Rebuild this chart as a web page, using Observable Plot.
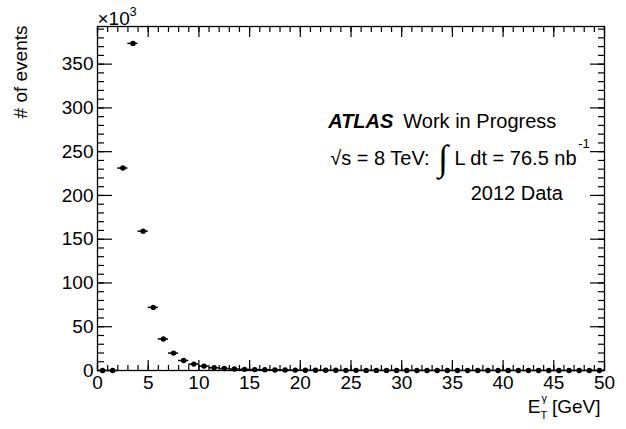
<!DOCTYPE html>
<html>
<head>
<meta charset="utf-8">
<script src="https://cdn.jsdelivr.net/npm/d3@7"></script>
<script src="https://cdn.jsdelivr.net/npm/@observablehq/plot@0.6"></script>
<style>
  html, body { margin: 0; padding: 0; background: #fff; }
  svg { display: block; }
</style>
</head>
<body>
<div id="chart"></div>
<script>
// ---- Data (E_T^gamma histogram, 1 GeV bins, counts in units of 10^3 events) ----
const binEdges = [0,1,2,3,4,5,6,7,8,9,10,11,12,13,14,15,16,17,18,19,20,21,22,23,24,25,
  26,27,28,29,30,31,32,33,34,35,36,37,38,39,40,41,42,43,44,45,46,47,48,49,50];
const counts = [0, 0, 231.3, 373.7, 159.2, 72.1, 36.0, 19.9, 11.4, 7.3,
  5.0, 3.1, 2.3, 1.7, 1.3, 1.0, 0.8, 0.65, 0.52, 0.43,
  0.36, 0.30, 0.25, 0.21, 0.18, 0.15, 0.13, 0.11, 0.10, 0.09,
  0.08, 0.07, 0.06, 0.05, 0.05, 0.04, 0.04, 0.03, 0.03, 0.03,
  0.02, 0.02, 0.02, 0.02, 0.01, 0.01, 0.01, 0.01, 0.01, 0.01];

// ---- Tick values ----
const xMajorTicks = [0,5,10,15,20,25,30,35,40,45,50];
const xMinorTicks = binEdges;
const yMajorTicks = [0,50,100,150,200,250,300,350];
const yMinorTicks = [0,10,20,30,40,50,60,70,80,90,100,110,120,130,140,150,160,170,180,190,
  200,210,220,230,240,250,260,270,280,290,300,310,320,330,340,350,360,370,380,390];

// ---- Text ----
const yTitle = "# of events";
const multiplierBase = "×10";
const multiplierExp = "3";
const atlasLabel = "ATLAS";
const atlasStatus = "Work in Progress";
const energyLabel = "√s = 8 TeV:";
const lumiLabel = "L dt = 76.5 nb";
const lumiUnitExp = "-1";
const dataLabel = "2012 Data";

const bins = counts.map((c, i) => ({lo: binEdges[i], hi: binEdges[i + 1], x: (binEdges[i] + binEdges[i + 1]) / 2, y: c}));

const FONT = "'Liberation Sans', Arial, Helvetica, sans-serif";
const blank = () => "";

const plot = Plot.plot({
  width: 626,
  height: 429,
  marginLeft: 97,
  marginRight: 22,
  marginTop: 26,
  marginBottom: 59,
  style: {fontFamily: FONT, fontSize: "19px", color: "black", background: "white", overflow: "visible"},
  x: {domain: [0, 50]},
  y: {domain: [0, 393]},
  marks: [
    // inward ticks on all four sides
    Plot.axisX(xMinorTicks, {anchor: "bottom", tickSize: 5, dy: -5, tickFormat: blank, label: null, strokeWidth: 1.2}),
    Plot.axisX(xMajorTicks, {anchor: "bottom", tickSize: 10, dy: -10, tickFormat: blank, label: null, strokeWidth: 1.2}),
    Plot.axisX(xMinorTicks, {anchor: "top", tickSize: 5, dy: 5, tickFormat: blank, label: null, strokeWidth: 1.2}),
    Plot.axisX(xMajorTicks, {anchor: "top", tickSize: 10, dy: 10, tickFormat: blank, label: null, strokeWidth: 1.2}),
    Plot.axisY(yMinorTicks, {anchor: "left", tickSize: 7, dx: 7, tickFormat: blank, label: null, strokeWidth: 1.2}),
    Plot.axisY(yMajorTicks, {anchor: "left", tickSize: 15, dx: 15, tickFormat: blank, label: null, strokeWidth: 1.2}),
    Plot.axisY(yMinorTicks, {anchor: "right", tickSize: 7, dx: -7, tickFormat: blank, label: null, strokeWidth: 1.2}),
    Plot.axisY(yMajorTicks, {anchor: "right", tickSize: 15, dx: -15, tickFormat: blank, label: null, strokeWidth: 1.2}),
    // tick labels
    Plot.axisX(xMajorTicks, {anchor: "bottom", tickSize: 0, tickPadding: 5, label: null, fontSize: 19, fill: "black"}),
    Plot.axisY(yMajorTicks, {anchor: "left", tickSize: 0, tickPadding: 4, label: null, fontSize: 19, fill: "black"}),
    Plot.frame({stroke: "black", strokeWidth: 1.3}),
    // data: horizontal bin-width bars + markers
    Plot.ruleY(bins, {y: "y", x1: "lo", x2: "hi", stroke: "black", strokeWidth: 1.5}),
    Plot.dot(bins, {x: "x", y: "y", r: 2.7, fill: "black", stroke: "none"}),
    // multiplier ×10^3
    Plot.text([multiplierBase], {frameAnchor: "top-left", textAnchor: "start", lineAnchor: "bottom", dy: -2, fontSize: 19, fill: "black"}),
    Plot.text([multiplierExp], {frameAnchor: "top-left", textAnchor: "start", lineAnchor: "bottom", dx: 32, dy: -11, fontSize: 13, fill: "black"}),
    // y title
    Plot.text([yTitle], {frameAnchor: "top-left", rotate: -90, textAnchor: "end", lineAnchor: "bottom", dx: -71, dy: -1, fontSize: 19, fill: "black"}),
    // x title: E_T^gamma [GeV]
    Plot.text(["[GeV]"], {frameAnchor: "bottom-right", textAnchor: "end", lineAnchor: "bottom", dx: -4, dy: 42, fontSize: 19, fill: "black"}),
    Plot.text(["E"], {frameAnchor: "bottom-right", textAnchor: "end", lineAnchor: "bottom", dx: -64, dy: 42, fontSize: 19, fill: "black"}),
    Plot.text(["T"], {frameAnchor: "bottom-right", textAnchor: "start", lineAnchor: "bottom", dx: -64, dy: 48, fontSize: 11, fill: "black"}),
    Plot.text(["γ"], {frameAnchor: "bottom-right", textAnchor: "start", lineAnchor: "bottom", dx: -63, dy: 31, fontSize: 11, fill: "black"}),
    // ATLAS label block
    Plot.text([atlasLabel], {x: 22.75, y: 276.7, textAnchor: "start", lineAnchor: "bottom", fontSize: 20, fontWeight: "bold", fontStyle: "italic", fill: "black"}),
    Plot.text([atlasStatus], {x: 30.16, y: 276.7, textAnchor: "start", lineAnchor: "bottom", fontSize: 20, fill: "black"}),
    Plot.text([energyLabel], {x: 22.95, y: 234.4, textAnchor: "start", lineAnchor: "bottom", fontSize: 20, fill: "black"}),
    Plot.text(["∫"], {x: 33.6, y: 229, textAnchor: "start", lineAnchor: "bottom", fontSize: 36, fontFamily: "'Liberation Serif', serif", fill: "black"}),
    Plot.text([lumiLabel], {x: 35.2, y: 234.4, textAnchor: "start", lineAnchor: "bottom", fontSize: 20, fill: "black"}),
    Plot.text([lumiUnitExp], {x: 47.4, y: 253.8, textAnchor: "start", lineAnchor: "bottom", fontSize: 13, fill: "black"}),
    Plot.text([dataLabel], {x: 36.8, y: 194.3, textAnchor: "start", lineAnchor: "bottom", fontSize: 20, fill: "black"})
  ]
});

document.getElementById("chart").appendChild(plot);
</script>
</body>
</html>
